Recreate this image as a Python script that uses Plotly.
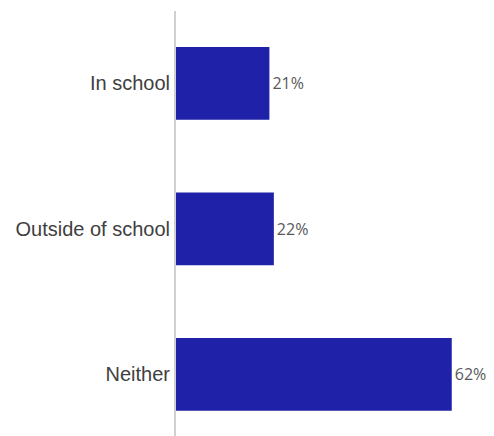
import plotly.graph_objects as go

categories = ["In school", "Outside of school", "Neither"]
values = [21, 22, 62]
labels = ["21%", "22%", "62%"]

fig = go.Figure(go.Bar(
    x=values, y=categories, orientation="h",
    marker=dict(color="#1f21a8", line=dict(width=0)),
    width=0.5,
    text=labels, textposition="outside",
    textfont=dict(family="Open Sans, sans-serif", size=16, color="#595959"),
    cliponaxis=False,
))
fig.update_layout(
    width=486, height=428,
    margin=dict(l=168, r=0, t=3, b=0),
    plot_bgcolor="white", paper_bgcolor="white",
    showlegend=False,
    xaxis=dict(range=[0, 71.5], visible=False, showgrid=False, zeroline=False),
    yaxis=dict(range=[2.423, -0.498], showgrid=False, zeroline=False,
               showline=True, linecolor="#d0d0d0", linewidth=2,
               ticks="", ticklabelstandoff=0,
               tickfont=dict(family="Liberation Sans, Arial, sans-serif", size=20, color="#404040")),
)
fig.write_html("out.html")
